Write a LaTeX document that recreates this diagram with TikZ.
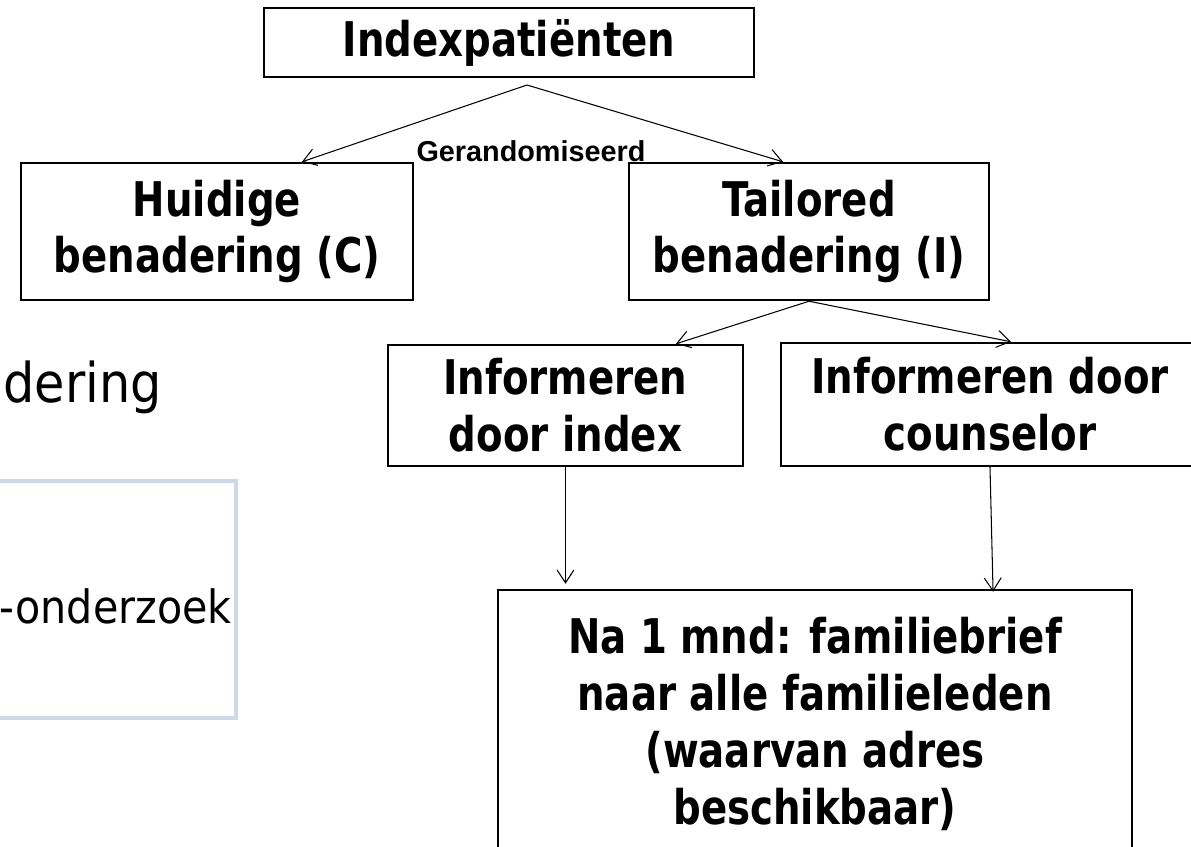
\documentclass[tikz,border=0pt]{standalone}
\usepackage{fontspec}
\usepackage{tikz}
\usetikzlibrary{arrows.meta}
\newfontfamily\boxfont[FakeStretch=0.81]{DejaVu Sans}
\newfontfamily\randfont{Liberation Sans}
\newfontfamily\slidefont[FakeStretch=0.9]{DejaVu Sans}
\definecolor{slideline}{RGB}{207,217,230}

\begin{document}
\begin{tikzpicture}[x=0.02cm, y=-0.02cm,
  box/.style={draw, line width=1.4pt, align=center, inner sep=0pt,
    font=\boxfont\bfseries\fontsize{27.2}{32.3}\selectfont},
  arr/.style={-{Straight Barb[length=0.26cm,width=0.34cm]}, line width=0.6pt},
  slidetext/.style={anchor=base east, inner sep=0pt}]

\useasboundingbox (0,0) rectangle (1191,846);
\clip (0,0) rectangle (1191,846);

% Slide text behind the scheme
\node[slidetext, font=\slidefont\fontsize{31.2}{36}\selectfont] (dering) at (162,402) {dering};
\draw[slideline, line width=2.8pt] (-20,481) rectangle (236,718);
\node[slidetext, font=\slidefont\fontsize{26.1}{30}\selectfont] (onderzoek) at (232,623) {-onderzoek};

% Boxes of the scheme
\node[box, minimum width=9.8cm,  minimum height=1.38cm] (patient)   at (509,42.5)  {Indexpatiënten};
\node[box, minimum width=7.84cm, minimum height=2.74cm] (huidig)    at (217,231.5) {Huidige\\benadering (C)};
\node[box, minimum width=7.2cm,  minimum height=2.74cm] (tailored)  at (809,231.5) {Tailored\\benadering (I)};
\node[box, minimum width=7.1cm,  minimum height=2.42cm] (viaindex)  at (565.5,405.5) {Informeren\\door index};
\node[box, minimum width=8.36cm, minimum height=2.46cm] (viacouns)  at (990,404.5) {Informeren door\\counselor};
\node[box, minimum width=12.68cm, minimum height=5.36cm] (brief)    at (815,724) {Na 1 mnd: familiebrief\\naar alle familieleden\\(waarvan adres\\beschikbaar)};

% Randomisation fork
\coordinate (fork) at (527,85);
\draw[arr] (fork) -- ([xshift=1.7cm]huidig.north);
\draw[arr] (fork) -- ([xshift=-0.52cm]tailored.north);
\node[font=\randfont\bfseries\fontsize{16.4}{19}\selectfont, inner sep=0pt] (rand) at (531,151) {Gerandomiseerd};

% Tailored split
\draw[arr] (tailored.south) -- ([xshift=2.21cm]viaindex.north);
\draw[arr] (tailored.south) -- ([xshift=0.42cm]viacouns.north);

% Down to the family letter
\draw[arr, shorten >=0.1cm] (viaindex.south) -- (viaindex.south |- brief.north);
\draw[arr, shorten >=-0.06cm] (viacouns.south) -- ([xshift=0.06cm]viacouns.south |- brief.north);

\end{tikzpicture}
\end{document}
